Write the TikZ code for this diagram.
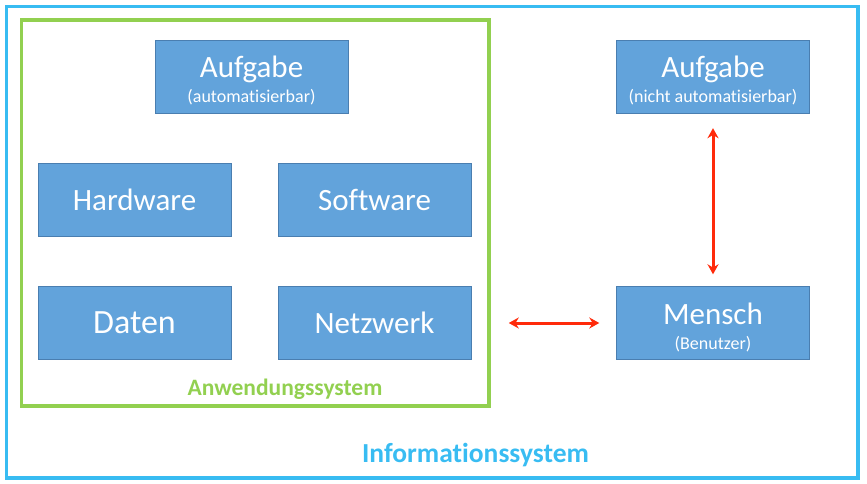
\documentclass[tikz,border=0pt]{standalone}
\usepackage{fontspec}
\setmainfont[Ligatures=NoCommon]{Carlito}
\usetikzlibrary{arrows.meta}
\definecolor{boxblau}{HTML}{62A3DB}
\definecolor{boxrand}{HTML}{4A7EB0}
\definecolor{rahmenblau}{HTML}{38BCF2}
\definecolor{rahmengruen}{HTML}{92D050}
\definecolor{pfeilrot}{HTML}{FF2A0A}

\tikzstyle{kasten}=[rectangle,draw=boxrand,fill=boxblau,text=white,minimum width=193pt,minimum height=73pt,inner sep=0pt,align=center,font=\fontsize{31}{25}\selectfont]
\tikzstyle{rahmen}=[draw,line width=3.5pt]
\tikzstyle{pfeil}=[draw=pfeilrot,line width=3pt,{Stealth[length=10pt,width=11pt]}-{Stealth[length=10pt,width=11pt]}]
\newcommand{\oberzeile}[1]{\rule{0pt}{30pt}#1}
\newcommand{\unterzeile}[1]{{\fontsize{18}{25}\selectfont #1}}

\begin{document}
\begin{tikzpicture}[x=1pt,y=-1pt]
			\useasboundingbox (0,0) rectangle (867,484);
			\node [rahmen,draw=rahmenblau,minimum width=851.5pt,minimum height=471.5pt] (info) at (432.25,242.25) {};
			\node [rahmen,draw=rahmengruen,minimum width=467.5pt,minimum height=386pt] (anw) at (255.25,213) {};

			\node [kasten] (aufgabe1) at (251.5,76.5) {\oberzeile{Aufgabe}\\\unterzeile{(automatisierbar)}};
			\node [kasten] (hardware) at (134.5,199.5) {Hardware};
			\node [kasten] (software) at (374.5,199.5) {Software};
			\node [kasten,font=\fontsize{34}{34}\selectfont] (daten) at (134.5,323) {Daten};
			\node [kasten] (netzwerk) at (374.5,323) {Netzwerk};
			\node [kasten] (aufgabe2) at (713,76.5) {\oberzeile{Aufgabe}\\\unterzeile{(nicht automatisierbar)}};
			\node [kasten] (mensch) at (713,323) {\oberzeile{Mensch}\\\unterzeile{(Benutzer)}};

			\node [anchor=base,text=rahmengruen,font=\fontsize{23.5}{23.5}\selectfont\bfseries] (anwtext) at (285,395) {Anwendungssystem};
			\node [anchor=base,text=rahmenblau,font=\fontsize{27.5}{27.5}\selectfont\bfseries] (infotext) at (475.5,462) {Informationssystem};

			\draw [pfeil] ([xshift=18pt]anw.east |- mensch.west) -- ([xshift=-17pt]mensch.west);
			\draw [pfeil] ([yshift=-15pt]aufgabe2.south) -- ([yshift=12pt]mensch.north);
	\end{tikzpicture}
\end{document}
